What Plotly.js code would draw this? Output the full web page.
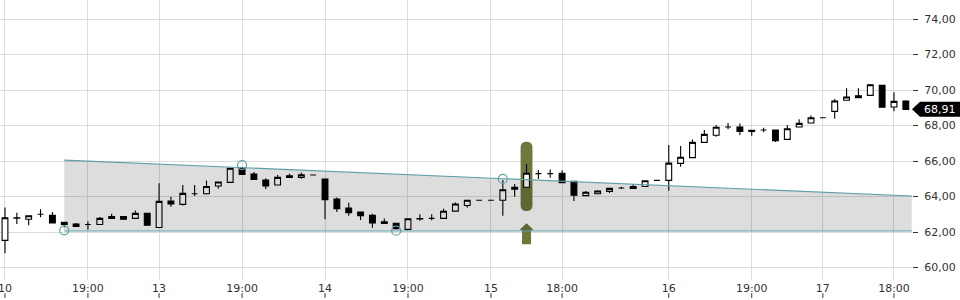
<!DOCTYPE html>
<html>
<head>
<meta charset="utf-8">
<script src="https://cdn.plot.ly/plotly-3.0.1.min.js"></script>
<style>html,body{margin:0;padding:0;background:#fff;}#chart{width:960px;height:300px;}</style>
</head>
<body>
<div id="chart"></div>
<script>
// Candle data (index-based hourly slots)
const openP  = [61.53,62.78,62.72,63.00,62.94,62.55,62.45,62.43,62.43,62.77,62.88,62.77,63.05,62.26,63.75,63.56,64.16,64.16,64.59,64.80,65.59,65.27,64.93,64.65,65.17,65.08,65.21,64.99,63.86,63.35,63.13,62.94,62.58,62.49,62.15,62.76,62.77,62.77,63.18,63.50,63.79,63.79,63.79,64.52,64.52,65.29,65.29,65.31,64.86,64.05,64.16,64.29,64.48,64.46,64.57,64.91,64.91,65.87,66.19,67.05,67.45,67.92,67.92,67.73,67.75,67.75,67.22,67.92,68.14,68.44,68.80,69.42,69.68,69.70,70.26,69.04,69.38];
const highP  = [63.39,63.09,62.92,63.28,63.13,62.55,62.51,62.60,62.85,63.03,62.88,63.22,63.05,64.75,63.99,64.65,64.65,64.91,64.82,65.59,65.68,65.38,65.03,65.21,65.28,65.36,65.22,64.99,63.94,63.65,63.13,63.03,62.77,62.49,62.75,63.00,63.00,63.31,63.67,63.79,63.80,63.80,64.93,64.70,65.83,65.49,65.53,65.48,64.86,64.31,64.35,64.46,64.55,64.70,64.89,64.92,66.91,66.85,67.22,67.75,68.03,68.14,68.12,67.73,67.88,67.75,68.03,68.35,68.57,68.45,69.49,70.10,70.10,70.34,70.26,69.87,69.42];
const lowP   = [60.80,62.45,62.38,62.83,62.52,62.26,62.28,62.15,62.43,62.77,62.72,62.77,62.38,62.26,63.43,63.50,64.03,64.12,64.44,64.80,65.25,64.97,64.42,64.65,65.08,65.00,65.20,62.72,63.13,62.92,62.68,62.24,62.49,62.15,62.15,62.64,62.66,62.77,63.18,63.37,63.78,63.78,62.92,63.99,64.52,64.99,65.06,64.78,63.75,64.05,64.16,64.20,64.42,64.46,64.57,64.90,64.33,65.68,66.19,67.05,67.37,67.79,67.46,67.43,67.62,67.07,67.22,67.92,68.14,68.43,68.38,69.42,69.57,69.70,69.03,68.80,68.91];
const closeP = [62.81,62.80,62.92,63.00,62.52,62.43,62.32,62.43,62.77,62.88,62.72,63.05,62.38,63.73,63.59,64.18,64.16,64.57,64.82,65.59,65.25,64.97,64.59,65.08,65.08,65.23,65.21,63.82,63.31,63.09,62.92,62.52,62.49,62.19,62.75,62.74,62.77,63.17,63.58,63.79,63.79,63.79,64.38,64.42,65.31,65.29,65.29,64.78,64.07,64.24,64.31,64.46,64.48,64.57,64.89,64.91,65.88,66.21,67.05,67.50,67.90,67.92,67.67,67.66,67.75,67.14,67.82,68.12,68.44,68.44,69.38,69.61,69.57,70.30,69.03,69.36,68.91];

// X tick labels (slot index -> label)
const tickIdx   = [0,7,13,20,27,34,41,47,56,63,69,75];
const tickLabel = ['10','19:00','13','19:00','14','19:00','15','18:00','16','19:00','17','18:00'];

// Y ticks
const yTicks = [60,62,64,66,68,70,72,74];

// Trend channel
const trendX = [5, 76.5];
const upperY = [66.05, 64.03];
const lowerY = [62.06, 62.06];

// Anchor circles
const pivotX = [5, 33, 20, 42];
const pivotY = [62.10, 62.08, 65.77, 64.99];

// Highlighted candle and signal arrow
const signalIdx = 44;
const highlightTop = 67.09, highlightBottom = 63.18;
const arrowTip = 62.49, arrowBase = 62.11, arrowEnd = 61.32;

const xIdx = openP.map((_, i) => i);
const yMin = 59.3, yMax = 75.07;
const teal = '#5e9fa6';
const olive = '#6b7a3a';

const traces = [
  {type:'scatter', mode:'lines', x:trendX, y:lowerY, line:{color:teal,width:1.2}, hoverinfo:'skip', showlegend:false},
  {type:'scatter', mode:'lines', x:trendX, y:upperY, fill:'tonexty', fillcolor:'rgba(0,0,0,0.135)', line:{color:teal,width:1.2}, hoverinfo:'skip', showlegend:false},
  {type:'scatter', mode:'markers', x:pivotX, y:pivotY, marker:{symbol:'circle-open', size:9, color:teal, line:{width:1.2}}, hoverinfo:'skip', showlegend:false},
  {type:'candlestick', x:xIdx, open:openP, high:highP, low:lowP, close:closeP,
   increasing:{line:{color:'#000',width:1.1}, fillcolor:'#ffffff'},
   decreasing:{line:{color:'#000',width:1.1}, fillcolor:'#000000'},
   whiskerwidth:0, showlegend:false}
];

const s = signalIdx;
const rx = 0.5, ry = 0.34;
const hlPath = `M ${s-rx},${highlightTop-ry} C ${s-rx},${highlightTop-ry*0.2} ${s-rx*0.5},${highlightTop} ${s},${highlightTop} C ${s+rx*0.5},${highlightTop} ${s+rx},${highlightTop-ry*0.2} ${s+rx},${highlightTop-ry} L ${s+rx},${highlightBottom+ry} C ${s+rx},${highlightBottom+ry*0.2} ${s+rx*0.5},${highlightBottom} ${s},${highlightBottom} C ${s-rx*0.5},${highlightBottom} ${s-rx},${highlightBottom+ry*0.2} ${s-rx},${highlightBottom+ry} Z`;
const aw = 0.6, sw = 0.38;
const arrowPath = `M ${s-aw},${arrowBase} L ${s},${arrowTip} L ${s+aw},${arrowBase} L ${s+sw},${arrowBase} L ${s+sw},${arrowEnd} L ${s-sw},${arrowEnd} L ${s-sw},${arrowBase} Z`;

const shapes = [
  {type:'path', path:hlPath, xref:'x', yref:'y', fillcolor:olive, line:{width:0}, layer:'between'},
  {type:'path', path:arrowPath, xref:'x', yref:'y', fillcolor:olive, line:{width:0}, layer:'between'}
];
// x tick marks below labels
tickIdx.forEach(t => shapes.push({type:'line', xref:'x', yref:'paper', x0:t, x1:t, y0:-0.047, y1:-0.064, line:{color:'#333',width:1}}));

// last price tag
const lastClose = closeP[closeP.length-1];
const py = (lastClose - yMin) / (yMax - yMin);
const hh = 7.5/280;
const tipX = 1.0, boxL = 1 + 8/912, boxR = 1 + 48/912;
shapes.push({type:'path', xref:'paper', yref:'paper',
  path:`M ${tipX},${py} L ${boxL},${py+hh} L ${boxR},${py+hh} L ${boxR},${py-hh} L ${boxL},${py-hh} Z`,
  fillcolor:'#000', line:{width:0}, layer:'above'});

const layout = {
  width:960, height:300,
  margin:{l:0, r:48, t:0, b:20, pad:0},
  paper_bgcolor:'#fff', plot_bgcolor:'#fff',
  separators:',.',
  font:{family:'DejaVu Sans, sans-serif', size:11, color:'#333'},
  showlegend:false,
  xaxis:{range:[-0.42,76.52], tickmode:'array', tickvals:tickIdx, ticktext:tickLabel,
    showgrid:true, gridcolor:'#dcdcdc', gridwidth:1, zeroline:false, showline:false, ticks:'',
    ticklabeloverflow:'allow', automargin:false,
    rangeslider:{visible:false}, fixedrange:true, tickfont:{size:11,color:'#333'}},
  yaxis:{range:[yMin,yMax], side:'right', tickmode:'array', tickvals:yTicks, tickformat:'.2f',
    showgrid:true, gridcolor:'#dcdcdc', gridwidth:1, zeroline:false, showline:false,
    ticks:'outside', ticklen:5, tickcolor:'#333', tickwidth:1, ticklabelstandoff:4,
    tickfont:{size:11,color:'#333'}, fixedrange:true, automargin:false},
  shapes:shapes,
  annotations:[{xref:'paper', yref:'paper', x:(boxL+boxR)/2, y:py, text:lastClose.toFixed(2).replace('.',','),
    showarrow:false, font:{color:'#fff', size:11, family:'DejaVu Sans, sans-serif'}, xanchor:'center', yanchor:'middle'}]
};

Plotly.newPlot('chart', traces, layout, {staticPlot:true, displayModeBar:false});
</script>
</body>
</html>
